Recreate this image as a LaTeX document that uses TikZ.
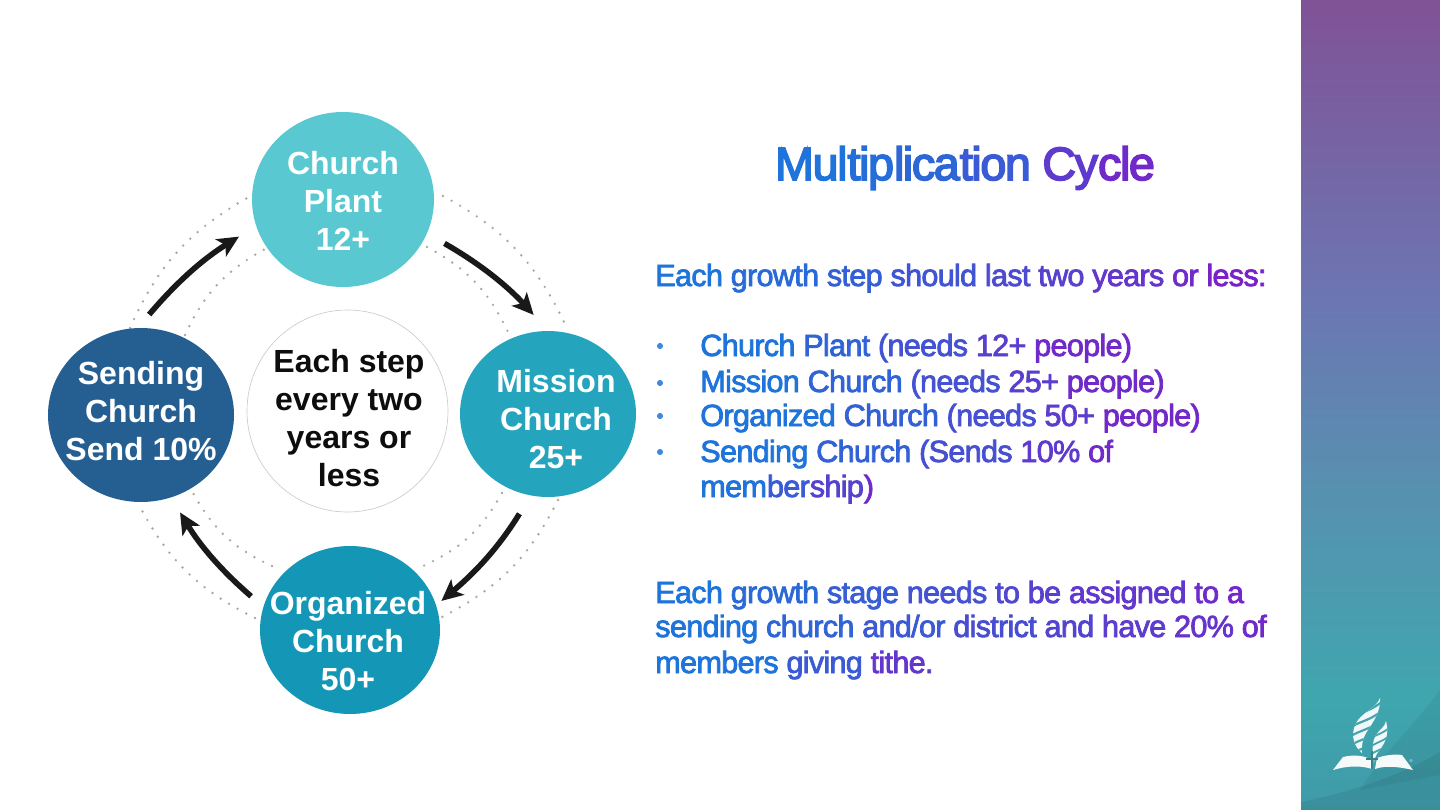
\documentclass[tikz,border=0pt]{standalone}
\usepackage{fontspec}
\usetikzlibrary{arrows.meta,shapes.geometric}
\setmainfont{Liberation Sans}
\newfontfamily\bodyfont[LetterSpace=-2.4,FakeBold=2.5]{Liberation Sans}
\newfontfamily\titlefont[LetterSpace=-3,FakeBold=3.5]{Liberation Sans}
\newfontfamily\blobfont{Liberation Sans Bold}

\definecolor{txtA}{HTML}{1E74DA}
\definecolor{txtB}{HTML}{7A22C8}
\definecolor{plantcol}{HTML}{59C8D1}
\definecolor{missioncol}{HTML}{25A4BD}
\definecolor{orgcol}{HTML}{1496B6}
\definecolor{sendcol}{HTML}{255F92}
\definecolor{panelbg}{HTML}{45A3AE}
\definecolor{panela}{RGB}{63,154,168}
\definecolor{panelb}{RGB}{63,166,174}
\definecolor{panelc}{RGB}{86,146,176}
\definecolor{paneld}{RGB}{108,118,178}
\definecolor{panele}{RGB}{128,82,150}

\pgfdeclareverticalshading{panelshade}{100bp}{
  color(0bp)=(panela);
  color(25bp)=(panela);
  color(31.8bp)=(panelb);
  color(44.1bp)=(panelc);
  color(56.5bp)=(paneld);
  color(75bp)=(panele);
  color(100bp)=(panele)}

% word in a colour between blue (0) and purple (100)
\newcommand{\gw}[2]{\textcolor{txtB!#1!txtA}{#2}}

\begin{document}
\begin{tikzpicture}[
    x=0.75pt, y=-0.75pt,
    % Style for the four stage circles
    blob/.style={
        ellipse, inner sep=0pt
    },
    % Style for the text on the circles
    bloblbl/.style={
        align=center, text=white, inner sep=0pt,
        font=\blobfont\fontsize{24}{28.5}\selectfont
    },
    % Style for the cycle arrows
    cyc/.style={
        line width=4.2pt, color=black!90,
        -{Stealth[length=16pt, width=15pt, inset=4pt]}
    },
    % Style for the dotted rings
    ringdots/.style={
        line width=2pt, line cap=round, color=black!34,
        dash pattern=on 0pt off 7.4pt
    },
    bodyline/.style={
        anchor=base west, inner sep=0pt,
        font=\bodyfont\fontsize{23}{23}\selectfont
    },
    bul/.style={
        circle, fill=txtA!85, inner sep=0pt, minimum size=4.6pt
    }
]
\useasboundingbox (0,0) rectangle (1440,810);

% --- Side panel ---
\shade[shading=panelshade] (1301,0) rectangle (1440,810);
\fill[black, opacity=0.07] (1440,752) .. controls (1395,778) and (1350,792) .. (1301,802) -- (1301,810) -- (1440,810) -- cycle;
\fill[black, opacity=0.05] (1440,690) .. controls (1415,725) and (1385,750) .. (1360,790) -- (1440,775) -- cycle;

% --- Logo ---
\begin{scope}
  \clip (1380,698) .. controls (1381,712) and (1373,722) .. (1366,733) .. controls (1361,742) and (1362,750) .. (1362,753)
     .. controls (1352,745) and (1350,731) .. (1358,720) .. controls (1365,711) and (1376,708) .. (1380,698) -- cycle;
  \fill[white!92!panelbg] (1345,695) rectangle (1385,756);
  \foreach \s in {0,9,18,27,36} {
    \draw[panelbg, line width=1.6pt] (1346,722+\s) .. controls (1356,712+\s) and (1368,714+\s) .. (1384,700+\s);
  }
\end{scope}
\begin{scope}
  \clip (1386,721) .. controls (1390,735) and (1384,745) .. (1378,752) .. controls (1375,757) and (1374,760) .. (1374,763)
     .. controls (1372,750) and (1372,742) .. (1376,735) .. controls (1380,729) and (1385,727) .. (1386,721) -- cycle;
  \fill[white!92!panelbg] (1368,718) rectangle (1392,765);
  \foreach \s in {0,8,16,24} {
    \draw[panelbg, line width=1.3pt] (1368,741+\s) .. controls (1376,733+\s) and (1383,735+\s) .. (1392,725+\s);
  }
\end{scope}
\fill[white!95!panelbg] (1333,770) -- (1343,757) .. controls (1355,754) and (1366,756) .. (1371,760) -- (1372,769) .. controls (1360,765) and (1346,766) .. cycle;
\fill[white!95!panelbg] (1375,769) -- (1377,758) .. controls (1385,755) and (1395,754) .. (1402,755) -- (1413,770) .. controls (1400,767) and (1386,765) .. cycle;
\draw[panelbg!80!black, line width=0.8pt] (1372,751) -- (1372,769) (1366,759) -- (1378,759);
\node[inner sep=0pt, text=white, font=\fontsize{3}{3}\selectfont] (regmark) at (1411,761) {\textregistered};

% --- Dotted rings ---
\foreach \a/\b/\c/\d in {130/328/247/198, 185/335/265/249, 443/196/565/324, 427/247/508/332,
                         558/500/442/617, 502/493/423/566, 255/618/138/503, 272/566/193/493} {
  \coordinate (ringa) at (\a,\b);
  \coordinate (ringb) at (\c,\d);
  \draw[ringdots] (ringa) to[bend left=18] (ringb);
}

% --- Stage circles ---
\node[blob, fill=plantcol, minimum width=136.5pt, minimum height=131.25pt] (plant) at (343,199.5) {};
\node[blob, fill=missioncol, minimum width=132pt, minimum height=124.5pt] (mission) at (548,414) {};
\node[blob, fill=orgcol, minimum width=135pt, minimum height=126pt] (org) at (350,630) {};
\node[blob, fill=sendcol, minimum width=139.5pt, minimum height=130.5pt] (send) at (141,415) {};
\node[blob, draw=black!20, line width=0.5pt, fill=white, minimum width=150.75pt, minimum height=151.5pt] (centre) at (347.5,411) {};

\node[bloblbl] (plantlbl) at (343,201) {Church\\Plant\\12+};
\node[bloblbl] (missionlbl) at (556,419) {Mission\\Church\\25+};
\node[bloblbl] (orglbl) at (348,641) {Organized\\Church\\50+};
\node[bloblbl] (sendlbl) at (141,411) {Sending\\Church\\Send 10\%};
\node[bloblbl, text=black!95] (centrelbl) at (349,418) {Each step\\every two\\years or\\less};

% --- Cycle arrows ---
\draw[cyc, shorten <=15pt, shorten >=16pt] (plant.-22) to[bend left=9] (mission.north);
\draw[cyc, shorten <=16pt, shorten >=5pt] (mission.-102) to[bend left=9] (org.16);
\draw[cyc, shorten <=12pt, shorten >=13pt] (org.165) to[bend left=9] (send.-70);
\draw[cyc, shorten <=13pt, shorten >=15pt] (send.92) to[bend left=9] (plant.197);

% --- Title ---
\node[anchor=base, inner sep=0pt, font=\titlefont\fontsize{35}{35}\selectfont] (title) at (965,180)
  {\gw{0}{Mul}\gw{8}{tip}\gw{16}{lica}\gw{30}{tion} \gw{70}{Cy}\gw{90}{cle}};

% --- Body text ---
\node[bodyline] (intro) at (655,286)
  {\gw{0}{Each} \gw{12}{growth} \gw{25}{step} \gw{38}{should} \gw{50}{last} \gw{62}{two} \gw{76}{years} \gw{88}{or} \gw{100}{less:}};

\node[bul] (bula) at (660,346) {};
\node[bul] (bulb) at (660,383) {};
\node[bul] (bulc) at (660,416) {};
\node[bul] (buld) at (660,452) {};

\node[bodyline] (itema) at (700,356)
  {\gw{0}{Church} \gw{20}{Plant} \gw{40}{(needs} \gw{65}{12+} \gw{90}{people)}};
\node[bodyline] (itemb) at (700,392)
  {\gw{0}{Mission} \gw{20}{Church} \gw{42}{(needs} \gw{65}{25+} \gw{90}{people)}};
\node[bodyline] (itemc) at (700,426)
  {\gw{0}{Organized} \gw{24}{Church} \gw{45}{(needs} \gw{68}{50+} \gw{92}{people)}};
\node[bodyline] (itemd) at (700,462)
  {\gw{0}{Sending} \gw{22}{Church} \gw{45}{(Sends} \gw{70}{10\%} \gw{90}{of}};
\node[bodyline] (iteme) at (700,497)
  {\gw{0}{mem}\gw{30}{ber}\gw{60}{ship}\gw{90}{)}};

\node[bodyline] (stagea) at (655,603)
  {\gw{0}{Each} \gw{14}{growth} \gw{28}{stage} \gw{42}{needs} \gw{54}{to} \gw{62}{be} \gw{74}{assigned} \gw{88}{to} \gw{95}{a}};
\node[bodyline] (stageb) at (655,637)
  {\gw{0}{sending} \gw{18}{church} \gw{32}{and/or} \gw{46}{district} \gw{58}{and} \gw{68}{have} \gw{78}{20\%} \gw{90}{of}};
\node[bodyline] (stagec) at (655,673)
  {\gw{0}{members} \gw{30}{giving} \gw{75}{tithe.}};

\end{tikzpicture}
\end{document}
